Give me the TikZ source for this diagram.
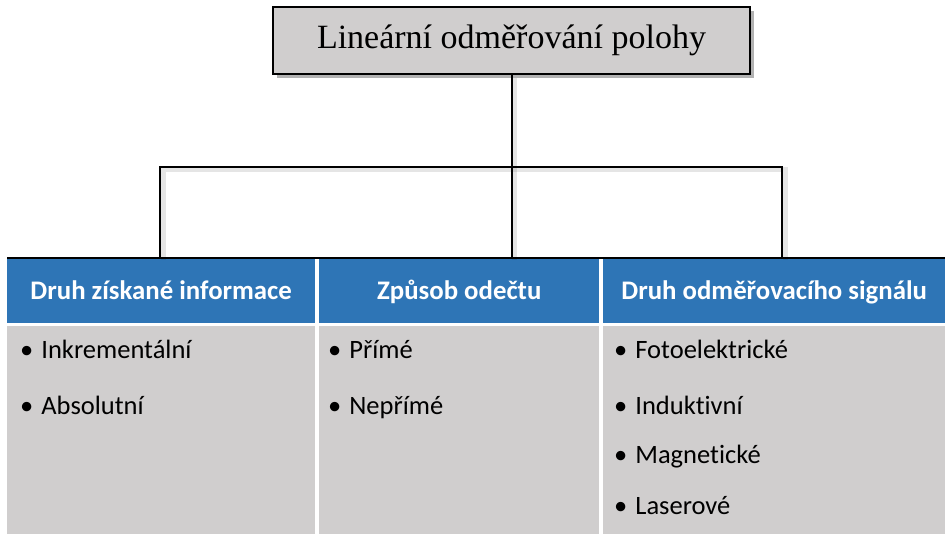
\documentclass[tikz,border=0pt]{standalone}
\usepackage{fontspec}
\setmainfont[Ligatures = NoCommon]{Carlito}
\newfontfamily\titlefont{Liberation Serif}
\usetikzlibrary{shadows}
\definecolor{headblue}{HTML}{2E75B6}
\definecolor{cellgray}{HTML}{D0CECE}

\begin{document}
\begin{tikzpicture}[x = 1pt, y = -1pt]
\tikzstyle{TitleStyle}=[shape = rectangle,
                        draw, line width = 2pt,
                        fill = cellgray,
                        minimum width = 477pt,
                        minimum height = 67pt,
                        inner sep = 0pt,
                        drop shadow = {shadow xshift = 4pt, shadow yshift = -4pt,
                                       opacity = 0.3, fill = black},
                        font = \titlefont\fontsize{34}{40}\selectfont]
\tikzstyle{HeadStyle}=[shape = rectangle,
                       fill = headblue, text = white,
                       minimum height = 65pt,
                       text height = 17pt, text depth = 0pt,
                       inner sep = 0pt, anchor = north west,
                       font = \bfseries\fontsize{26.8}{32}\selectfont]
\tikzstyle{BodyStyle}=[shape = rectangle,
                       fill = cellgray,
                       minimum height = 208pt,
                       inner sep = 0pt, anchor = north west]
\tikzstyle{ItemStyle}=[anchor = base west, inner sep = 0pt,
                       font = \fontsize{26.5}{32}\selectfont]
\tikzstyle{WireStyle}=[line width = 2pt,
                       preaction = {draw = black, opacity = 0.1, line width = 5pt,
                                    transform canvas = {xshift = 3pt, yshift = -3pt}}]
\useasboundingbox (0, 0) rectangle (945, 534);
% org chart part
\node[TitleStyle] (title) at (511.5, 40.5) {Lineární odměřování polohy};
% table
\node[HeadStyle, minimum width = 308pt] (h1) at (7, 258) {Druh získané informace};
\node[HeadStyle, minimum width = 280pt] (h2) at (319, 258) {Způsob odečtu};
\node[HeadStyle, minimum width = 342pt] (h3) at (603, 258) {Druh odměřovacího signálu};
\node[BodyStyle, minimum width = 308pt] (b1) at (7, 326) {};
\node[BodyStyle, minimum width = 280pt] (b2) at (319, 326) {};
\node[BodyStyle, minimum width = 342pt] (b3) at (603, 326) {};
\node[ItemStyle] (i11) at (20, 359) {\textbullet\hspace{8pt}Inkrementální};
\node[ItemStyle] (i12) at (20, 414) {\textbullet\hspace{8pt}Absolutní};
\node[ItemStyle] (i21) at (328, 359) {\textbullet\hspace{8pt}Přímé};
\node[ItemStyle] (i22) at (328, 414) {\textbullet\hspace{8pt}Nepřímé};
\node[ItemStyle] (i31) at (614, 359) {\textbullet\hspace{8pt}Fotoelektrické};
\node[ItemStyle] (i32) at (614, 414) {\textbullet\hspace{8pt}Induktivní};
\node[ItemStyle] (i33) at (614, 463) {\textbullet\hspace{8pt}Magnetické};
\node[ItemStyle] (i34) at (614, 514) {\textbullet\hspace{8pt}Laserové};
\draw[line width = 2pt] (h1.north west) -- (h3.north east);
% connectors
\coordinate (bus) at (511.5, 167);
\coordinate (d1) at (160, 257);
\coordinate (d2) at (511.5, 257);
\coordinate (d3) at (782, 257);
\draw[WireStyle] (title.south) -- (bus);
\draw[WireStyle] (d1) |- (bus) -| (d3);
\draw[WireStyle] (bus) -- (d2);
\end{tikzpicture}
\end{document}
